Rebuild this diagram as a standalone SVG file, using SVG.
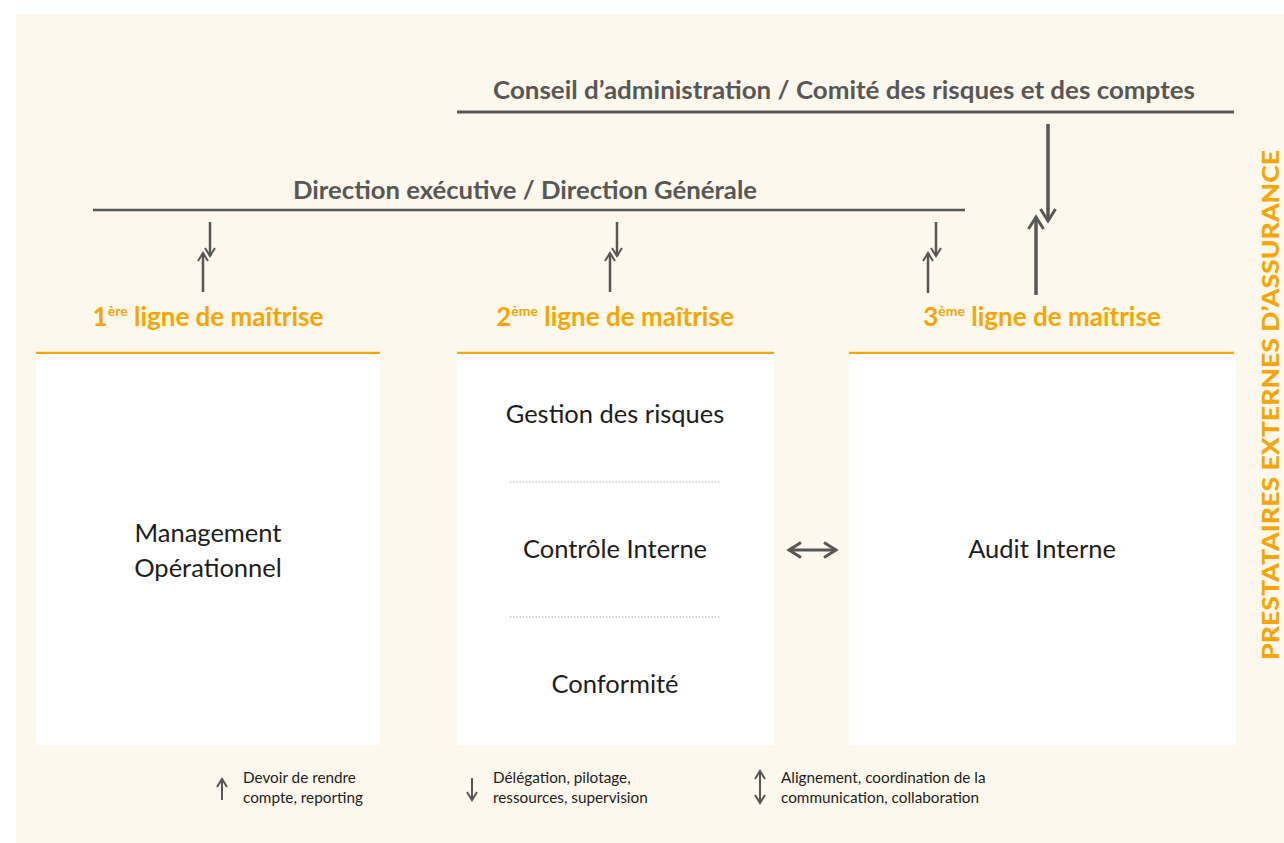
<svg xmlns="http://www.w3.org/2000/svg" width="1284" height="843" viewBox="0 0 1284 843">
<defs>
<style>
.bg{fill:#fdf8ee}
.box{fill:#ffffff}
.gline{stroke:#575756;fill:none}
.oline{stroke:#f7a600;stroke-width:2.5}
.dot{stroke:#9d9d9c;stroke-width:1.2;stroke-dasharray:1.2 2}
.head{font-family:Lato,"Liberation Sans",sans-serif;font-weight:bold;font-size:24px;fill:#575756;text-anchor:middle}
.line{font-family:Lato,"Liberation Sans",sans-serif;font-weight:bold;font-size:26px;fill:#f7a600;text-anchor:middle}
.sup{font-size:14px}
.body{font-family:Lato,"Liberation Sans",sans-serif;font-size:25.5px;fill:#1d1d1b;text-anchor:middle}
.leg{font-family:Lato,"Liberation Sans",sans-serif;font-size:15.3px;fill:#1d1d1b}
.side{font-family:Lato,"Liberation Sans",sans-serif;font-weight:900;font-size:23px;fill:#f7a600}
</style>
<marker id="ah" viewBox="0 0 12 12" refX="10" refY="6" markerWidth="12" markerHeight="12" markerUnits="userSpaceOnUse" orient="auto-start-reverse">
<path d="M2,1 L10,6 L2,11" fill="none" stroke="#575756" stroke-width="2"/>
</marker>
<marker id="ahL" viewBox="0 0 18 18" refX="15" refY="9" markerWidth="18" markerHeight="18" markerUnits="userSpaceOnUse" orient="auto-start-reverse">
<path d="M3,1.5 L15,9 L3,16.5" fill="none" stroke="#575756" stroke-width="3"/>
</marker>
</defs>
<rect x="0" y="0" width="1284" height="843" fill="#ffffff"/>
<rect class="bg" x="16" y="14" width="1268" height="829"/>

<g id="conseil">
<text class="head" x="844" y="99" textLength="702" lengthAdjust="spacingAndGlyphs">Conseil d’administration / Comité des risques et des comptes</text>
<line class="gline" x1="457" y1="112" x2="1234" y2="112" stroke-width="3"/>
</g>
<g id="direction">
<text class="head" x="525" y="199" textLength="464" lengthAdjust="spacingAndGlyphs">Direction exécutive / Direction Générale</text>
<line class="gline" x1="93" y1="210" x2="965" y2="210" stroke-width="2.5"/>
</g>

<g id="ligne1">
<text class="line" x="208" y="326"><tspan>1</tspan><tspan class="sup" dy="-10">ère</tspan><tspan dy="10"> ligne de maîtrise</tspan></text>
<line class="oline" x1="36" y1="353" x2="380" y2="353"/>
<rect class="box" x="36" y="354" width="344" height="391"/>
<text class="body" x="208" y="542">Management</text>
<text class="body" x="208" y="577">Opérationnel</text>
</g>

<g id="ligne2">
<text class="line" x="615" y="326"><tspan>2</tspan><tspan class="sup" dy="-10">ème</tspan><tspan dy="10"> ligne de maîtrise</tspan></text>
<line class="oline" x1="457" y1="353" x2="774" y2="353"/>
<rect class="box" x="457" y="354" width="317" height="391"/>
<text class="body" x="615" y="423">Gestion des risques</text>
<line class="dot" x1="510" y1="482" x2="721" y2="482"/>
<text class="body" x="615" y="558">Contrôle Interne</text>
<line class="dot" x1="510" y1="617" x2="721" y2="617"/>
<text class="body" x="615" y="693">Conformité</text>
</g>

<g id="ligne3">
<text class="line" x="1042" y="326"><tspan>3</tspan><tspan class="sup" dy="-10">ème</tspan><tspan dy="10"> ligne de maîtrise</tspan></text>
<line class="oline" x1="849" y1="353" x2="1234" y2="353"/>
<rect class="box" x="849" y="354" width="387" height="391"/>
<text class="body" x="1042" y="558">Audit Interne</text>
</g>

<g id="prestataires">
<text class="side" transform="translate(1279,660) rotate(-90)" textLength="510" lengthAdjust="spacingAndGlyphs">PRESTATAIRES EXTERNES D’ASSURANCE</text>
</g>

<g id="connectors">
<line class="gline" x1="210" y1="222" x2="210" y2="256" stroke-width="2.5" marker-end="url(#ah)"/>
<line class="gline" x1="203" y1="292" x2="203" y2="253" stroke-width="2.5" marker-end="url(#ah)"/>
<line class="gline" x1="617" y1="222" x2="617" y2="256" stroke-width="2.5" marker-end="url(#ah)"/>
<line class="gline" x1="610" y1="292" x2="610" y2="253" stroke-width="2.5" marker-end="url(#ah)"/>
<line class="gline" x1="936" y1="222" x2="936" y2="256" stroke-width="2.5" marker-end="url(#ah)"/>
<line class="gline" x1="928" y1="293" x2="928" y2="253" stroke-width="2.5" marker-end="url(#ah)"/>
<line class="gline" x1="1048" y1="124" x2="1048" y2="221" stroke-width="3.5" marker-end="url(#ahL)"/>
<line class="gline" x1="1036" y1="295" x2="1036" y2="217" stroke-width="3.5" marker-end="url(#ahL)"/>
<line class="gline" x1="789" y1="550" x2="836" y2="550" stroke-width="3" marker-start="url(#ahL)" marker-end="url(#ahL)"/>
</g>

<g id="legend">
<line class="gline" x1="222" y1="800" x2="222" y2="779" stroke-width="2" marker-end="url(#ah)"/>
<text class="leg" x="243" y="783">Devoir de rendre</text>
<text class="leg" x="243" y="803">compte, reporting</text>
<line class="gline" x1="472" y1="778" x2="472" y2="800" stroke-width="2" marker-end="url(#ah)"/>
<text class="leg" x="493" y="783">Délégation, pilotage,</text>
<text class="leg" x="493" y="803">ressources, supervision</text>
<line class="gline" x1="760" y1="771" x2="760" y2="803" stroke-width="2" marker-start="url(#ah)" marker-end="url(#ah)"/>
<text class="leg" x="781" y="783">Alignement, coordination de la</text>
<text class="leg" x="781" y="803">communication, collaboration</text>
</g>
</svg>
